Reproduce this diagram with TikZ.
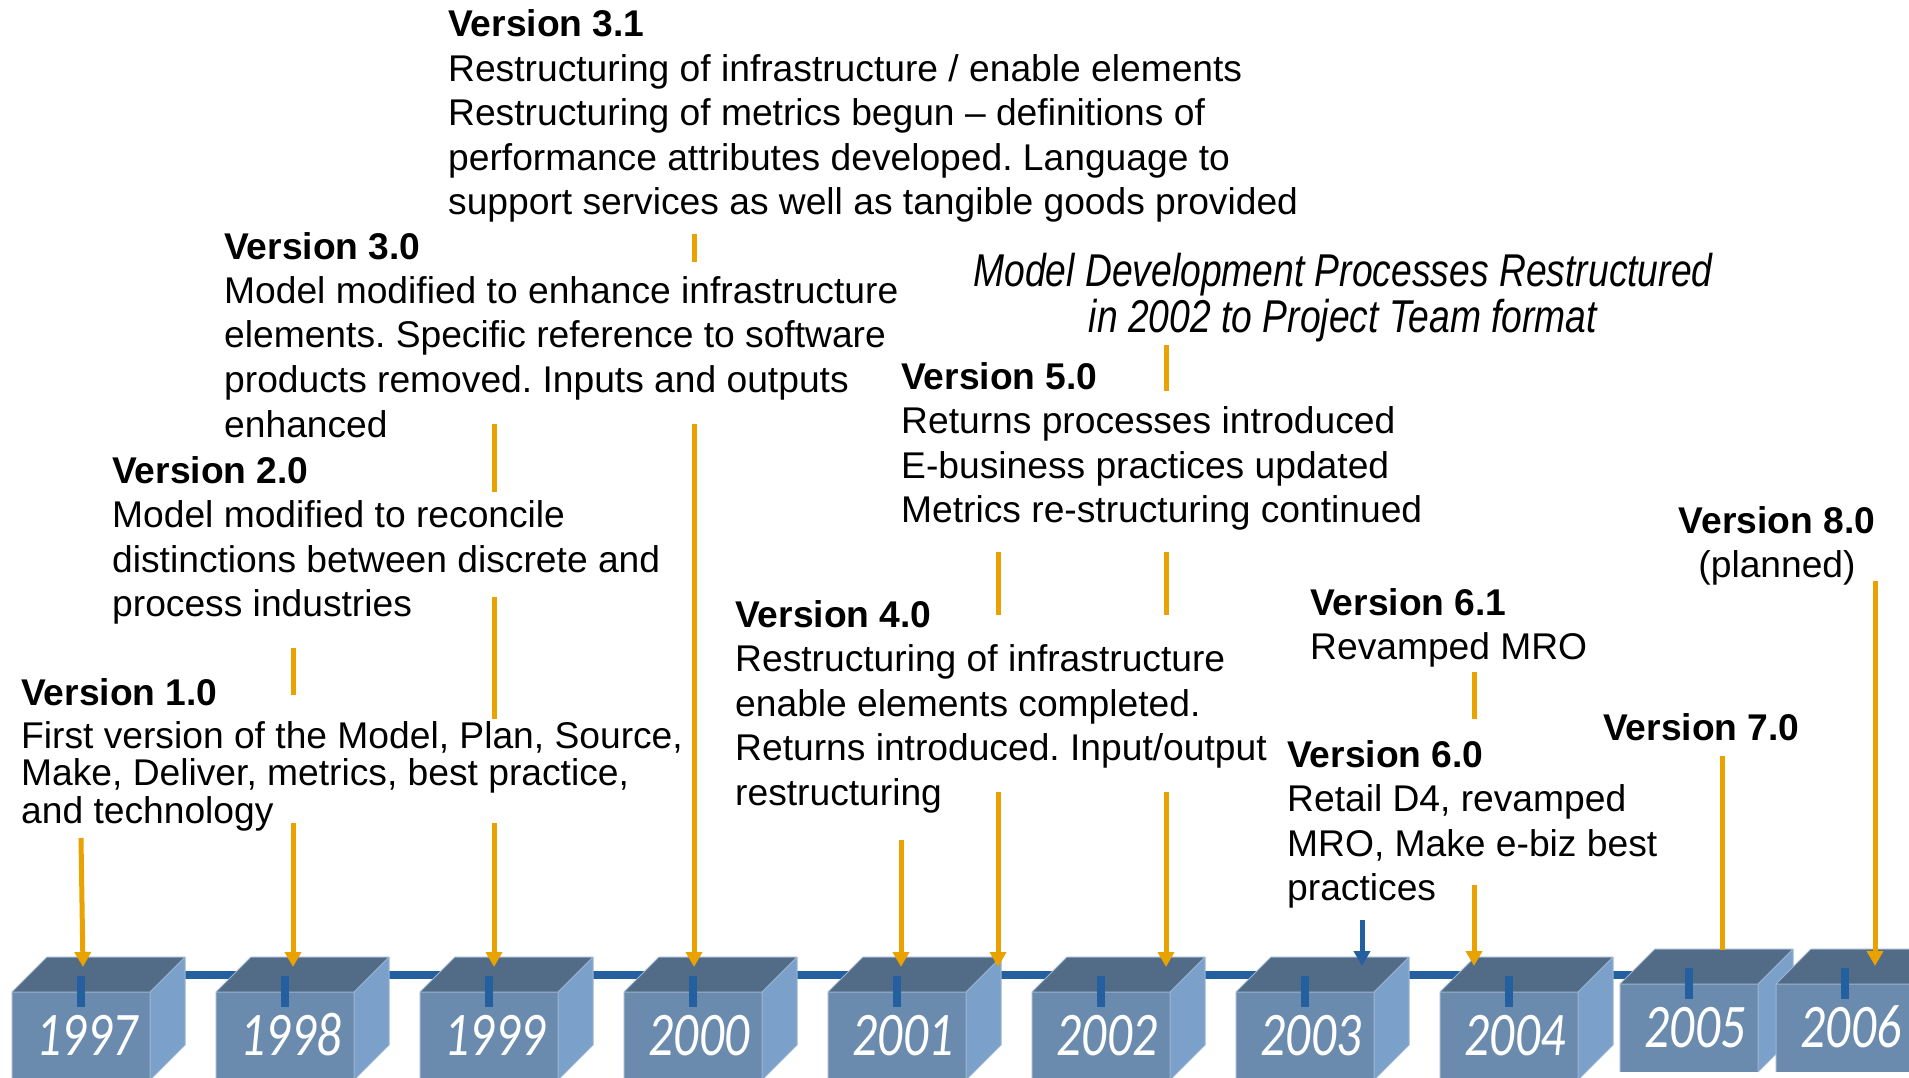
\documentclass[tikz,border=0pt]{standalone}
\usepackage{fontspec}
\setmainfont{Liberation Sans}
\newfontfamily\yearfont{Carlito}
\usepackage{graphicx}
\usetikzlibrary{arrows.meta}

\definecolor{cubefront}{HTML}{6A8BAD}
\definecolor{cubetop}{HTML}{526C88}
\definecolor{cubeside}{HTML}{7BA1CA}
\definecolor{cubeedge}{HTML}{9DB4CF}
\definecolor{timeline}{HTML}{2460A0}
\definecolor{gold}{HTML}{E9A200}

\tikzset{
  txt/.style={anchor=base west, inner sep=0pt, font=\fontsize{37.2}{44.5}\selectfont\frenchspacing},
  ctxt/.style={anchor=base, inner sep=0pt, font=\fontsize{37.2}{44.5}\selectfont\frenchspacing},
  yearlbl/.style={anchor=base, inner sep=0pt, text=white, font=\yearfont\itshape\fontsize{62}{62}\selectfont},
  feed/.style={draw=gold, line width=5pt},
  feedarrow/.style={feed, -{Triangle[width=16pt,length=15pt]}},
  bluearrow/.style={draw=timeline, line width=5pt, -{Triangle[width=16pt,length=15pt]}},
}

% one year block: name, front-left x, front-top y, year
\newcommand\yearcube[4]{%
  \begin{scope}[shift={(#2,#3)}]
    \fill[cubefront] (0,0) rectangle (138,88);
    \fill[cubetop] (0,0) -- (35,-35) -- (173,-35) -- (138,0) -- cycle;
    \fill[cubeside] (138,0) -- (173,-35) -- (173,53) -- (138,88) -- cycle;
    \draw[cubeedge, line width=1pt, line join=round]
      (0,88) -- (0,0) -- (138,0) -- (138,88)
      (0,0) -- (35,-35) -- (173,-35) -- (138,0)
      (173,-35) -- (173,53) -- (138,88);
    \draw[timeline, line width=8pt] (69,-16) -- (69,15);
    \node[yearlbl] (#1) at (75,63) {\scalebox{0.8}[1]{#4}};
  \end{scope}}

\begin{document}
\begin{tikzpicture}[x=1pt, y=-1pt]
\useasboundingbox (0,0) rectangle (1909,1078);

% timeline bar behind the year blocks
\coordinate (barL) at (80,975);
\coordinate (barR) at (1850,975);
\draw[timeline, line width=8pt] (barL) -- (barR);

% year blocks
\yearcube{y1997}{12}{992}{1997}
\yearcube{y1998}{216}{992}{1998}
\yearcube{y1999}{420}{992}{1999}
\yearcube{y2000}{624}{992}{2000}
\yearcube{y2001}{828}{992}{2001}
\yearcube{y2002}{1032}{992}{2002}
\yearcube{y2003}{1236}{992}{2003}
\yearcube{y2004}{1440}{992}{2004}
\yearcube{y2005}{1620}{984}{2005}
\yearcube{y2006}{1776}{984}{2006}

% release notes
\node[txt] (v31) at (448,37) {\begin{tabular}[t]{@{}l@{}}
  \textbf{Version 3.1}\\
  Restructuring of infrastructure / enable elements\\
  Restructuring of metrics begun – definitions of\\
  performance attributes developed. Language to\\
  support services as well as tangible goods provided
\end{tabular}};

\node[txt] (v30) at (224,259) {\begin{tabular}[t]{@{}l@{}}
  \textbf{Version 3.0}\\
  Model modified to enhance infrastructure\\
  elements. Specific reference to software\\
  products removed. Inputs and outputs\\
  enhanced
\end{tabular}};

\node[txt] (v20) at (112,483) {\begin{tabular}[t]{@{}l@{}}
  \textbf{Version 2.0}\\
  Model modified to reconcile\\
  distinctions between discrete and\\
  process industries
\end{tabular}};

\node[txt] (v10) at (21,705) {\textbf{Version 1.0}};
\node[txt, font=\fontsize{37.2}{35.5}\selectfont\frenchspacing] (v10b) at (21,748) {\begin{tabular}[t]{@{}l@{}}
  First version of the Model, Plan, Source,\\
  Make, Deliver, metrics, best practice,\\
  and technology
\end{tabular}};

\node[txt] (v40) at (735,627) {\begin{tabular}[t]{@{}l@{}}
  \textbf{Version 4.0}\\
  Restructuring of infrastructure\\
  enable elements completed.\\
  Returns introduced. Input/output\\
  restructuring
\end{tabular}};

\node[ctxt, font=\itshape\fontsize{46}{41}\selectfont] (proc) at (1343,287) {\scalebox{0.81}[1]{\begin{tabular}[t]{@{}c@{}}
  Model Development Processes Restructured\\
  in 2002 to Project Team format
\end{tabular}}};

\node[txt] (v50) at (901,389) {\begin{tabular}[t]{@{}l@{}}
  \textbf{Version 5.0}\\
  Returns processes introduced\\
  E-business practices updated\\
  Metrics re-structuring continued
\end{tabular}};

\node[txt] (v61) at (1310,615) {\begin{tabular}[t]{@{}l@{}}
  \textbf{Version 6.1}\\
  Revamped MRO
\end{tabular}};

\node[txt] (v60) at (1287,767) {\begin{tabular}[t]{@{}l@{}}
  \textbf{Version 6.0}\\
  Retail D4, revamped\\
  MRO, Make e-biz best\\
  practices
\end{tabular}};

\node[txt] (v70) at (1603,740) {\textbf{Version 7.0}};

\node[ctxt] (v80) at (1777,533) {\begin{tabular}[t]{@{}c@{}}
  \textbf{Version 8.0}\\
  (planned)
\end{tabular}};

% connector end points
\coordinate (a97s) at (81,838);   \coordinate (a97e) at (83,967);
\coordinate (s98a) at (293,648);  \coordinate (s98b) at (293,695);
\coordinate (a98s) at (293,823);  \coordinate (a98e) at (293,967);
\coordinate (s99a) at (494,424);  \coordinate (s99b) at (494,492);
\coordinate (s99c) at (494,597);  \coordinate (s99d) at (494,719);
\coordinate (a99s) at (494,823);  \coordinate (a99e) at (494,967);
\coordinate (s00a) at (694,234);  \coordinate (s00b) at (694,262);
\coordinate (a00s) at (694,424);  \coordinate (a00e) at (694,967);
\coordinate (a01s) at (901,840);  \coordinate (a01e) at (901,967);
\coordinate (s01a) at (998,552);  \coordinate (s01b) at (998,615);
\coordinate (b01s) at (998,792);  \coordinate (b01e) at (998,967);
\coordinate (s02a) at (1166,345); \coordinate (s02b) at (1166,391);
\coordinate (s02c) at (1166,552); \coordinate (s02d) at (1166,615);
\coordinate (a02s) at (1166,792); \coordinate (a02e) at (1166,967);
\coordinate (a03s) at (1362,920); \coordinate (a03e) at (1362,966);
\coordinate (s04a) at (1474,672); \coordinate (s04b) at (1474,719);
\coordinate (a04s) at (1474,885); \coordinate (a04e) at (1474,966);
\coordinate (a05s) at (1722,756); \coordinate (a05e) at (1722,950);
\coordinate (a06s) at (1875,581); \coordinate (a06e) at (1875,966);

% connectors
\draw[feedarrow] (a97s) -- (a97e);
\draw[feed] (s98a) -- (s98b);
\draw[feedarrow] (a98s) -- (a98e);
\draw[feed] (s99a) -- (s99b);
\draw[feed] (s99c) -- (s99d);
\draw[feedarrow] (a99s) -- (a99e);
\draw[feed] (s00a) -- (s00b);
\draw[feedarrow] (a00s) -- (a00e);
\draw[feedarrow] (a01s) -- (a01e);
\draw[feed] (s01a) -- (s01b);
\draw[feedarrow] (b01s) -- (b01e);
\draw[feed] (s02a) -- (s02b);
\draw[feed] (s02c) -- (s02d);
\draw[feedarrow] (a02s) -- (a02e);
\draw[bluearrow] (a03s) -- (a03e);
\draw[feed] (s04a) -- (s04b);
\draw[feedarrow] (a04s) -- (a04e);
\draw[feed] (a05s) -- (a05e);
\draw[feedarrow] (a06s) -- (a06e);
\end{tikzpicture}
\end{document}
